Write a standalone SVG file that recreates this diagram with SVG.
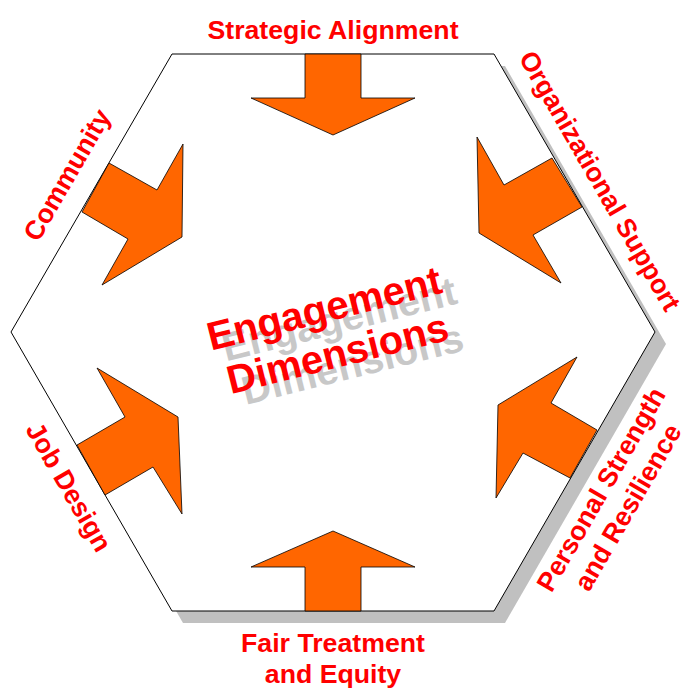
<svg xmlns="http://www.w3.org/2000/svg" width="700" height="700" viewBox="0 0 700 700">
<style>
.lbl{font-family:"Liberation Sans",Arial,sans-serif;font-weight:bold;font-size:26.7px;fill:#FF0000;text-anchor:middle}
.ctr{font-family:"Liberation Sans",Arial,sans-serif;font-weight:bold;font-size:40px;text-anchor:middle}
.arrow{fill:#FF6600;stroke:#000;stroke-width:0.8;stroke-linejoin:miter}
</style>
<rect width="700" height="700" fill="#fff"/>
<g id="hexagon">
<polygon points="183,66 505,66 666,344 505,623 183,623 22,344" fill="#C0C0C0"/>
<polygon points="172,54 494,54 655,332 494,611 172,611 11,332" fill="#fff" stroke="#000" stroke-width="1"/>
</g>
<g id="connectors">
<polygon class="arrow" points="305,54 361,54 361,98 415,98 333,135 251,98 305,98"/>
<polygon class="arrow" points="477,137 504,185 552,158 582,207 533,235 561,283 479,233"/>
<polygon class="arrow" points="577,357 551,403 597,430 570,478 523,453 496,498 498,405"/>
<polygon class="arrow" points="305,611 305,567 251,567 333,531 415,567 361,567 361,611"/>
<polygon class="arrow" points="97,368 125,417 77,445 105,495 153,467 182,514 178,417"/>
<polygon class="arrow" points="183,144 157,190 109,163 82,212 128,239 102,285 182,237"/>
</g>
<g id="strategic-alignment">
<text class="lbl" x="333" y="38.5">Strategic Alignment</text>
</g>
<g id="organizational-support">
<text class="lbl" transform="translate(592,185.5) rotate(60)">Organizational Support</text>
</g>
<g id="personal-strength">
<text class="lbl" transform="translate(609,494) rotate(-60)"><tspan x="0" y="0">Personal Strength</tspan><tspan x="-2" y="32">and Resilience</tspan></text>
</g>
<g id="fair-treatment">
<text class="lbl" transform="translate(333,652)"><tspan x="0" y="0">Fair Treatment</tspan><tspan x="0" y="31">and Equity</tspan></text>
</g>
<g id="job-design">
<text class="lbl" transform="translate(61,491.5) rotate(60)">Job Design</text>
</g>
<g id="community">
<text class="lbl" transform="translate(75,179.5) rotate(-60)">Community</text>
</g>
<g id="center" transform="rotate(-14 333 344)">
<text class="ctr" fill="#C8C8C8" transform="translate(12,14)"><tspan x="333" y="321">Engagement</tspan><tspan x="335" y="368">Dimensions</tspan></text>
<text class="ctr" fill="#FF0000"><tspan x="333" y="321">Engagement</tspan><tspan x="335" y="368">Dimensions</tspan></text>
</g>
</svg>
